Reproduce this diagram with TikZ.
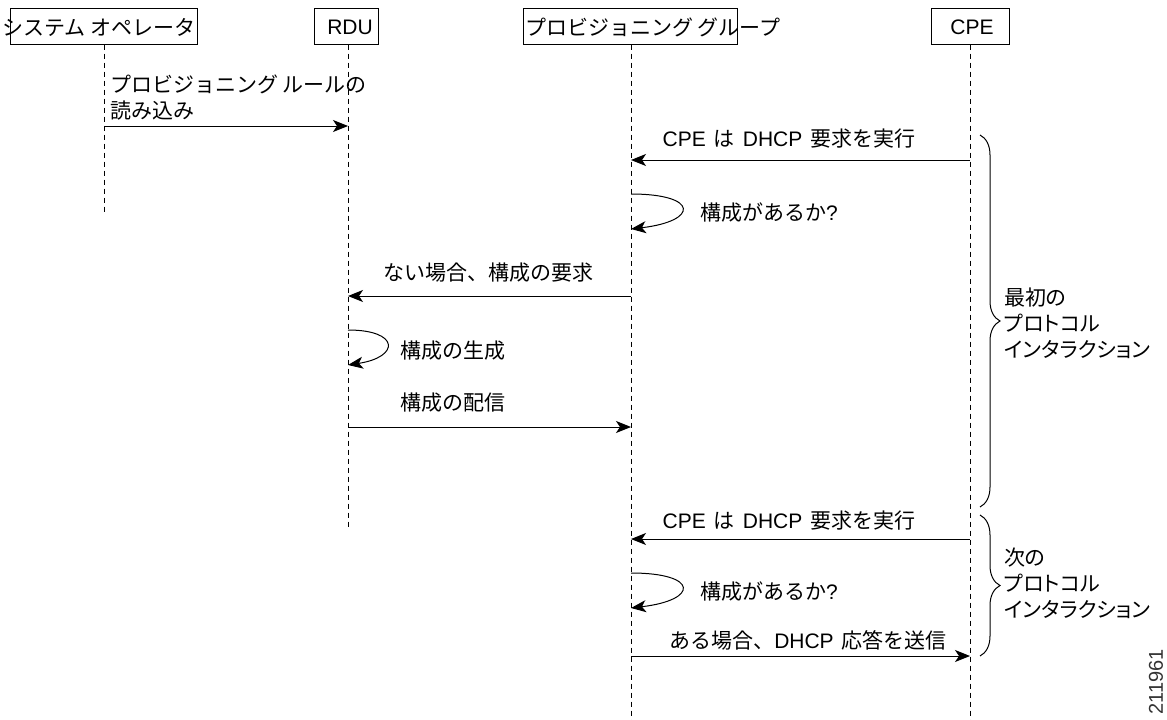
\documentclass[tikz,border=0pt]{standalone}
\usepackage{fontspec}
\setmainfont{Noto Sans CJK JP}
\newfontfamily\jpprop{Noto Sans CJK JP}[RawFeature=+palt]
\newfontfamily\latf{Liberation Sans}
\newcommand\La[1]{{\latf #1}}
\newcommand\gapL{\hspace{8pt}}
\usetikzlibrary{arrows.meta,decorations.pathreplacing}
\begin{document}
\begin{tikzpicture}[x=1pt,y=-1pt,
  lifeline/.style={line width=1pt, dash pattern=on 5pt off 4pt},
  msg/.style={line width=1pt, -{Stealth[length=15pt,width=12pt,inset=4pt]}},
  headbox/.style={draw, line width=1pt, inner sep=0pt},
  lbl/.style={font=\fontsize{21}{26}\selectfont, inner sep=0pt},
  grplbl/.style={font=\jpprop\fontsize{21}{26}\selectfont, inner sep=0pt, anchor=west, align=left},
  bracestyle/.style={line width=1pt, decorate, decoration={brace, amplitude=20pt}}
]
\useasboundingbox (0,0) rectangle (1167,720);

% header boxes
\node[headbox, minimum width=187pt, minimum height=36pt] (opBox) at (103.5,26) {};
\node[lbl, anchor=west] (opText) at (2,27) {システム オペレータ};
\node[headbox, minimum width=64pt, minimum height=36pt] (rduBox) at (346,26) {};
\node[lbl] (rduText) at (350,27) {\La{RDU}};
\node[headbox, minimum width=214pt, minimum height=36pt] (pgBox) at (630,26) {};
\node[lbl, anchor=west] (pgText) at (525,27) {プロビジョニング グループ};
\node[headbox, minimum width=78pt, minimum height=36pt] (cpeBox) at (970,26) {};
\node[lbl] (cpeText) at (972,27) {\La{CPE}};

% lifeline ends
\coordinate (opEnd) at (104,215);
\coordinate (rduEnd) at (348,528);
\coordinate (pgEnd) at (631,720);
\coordinate (cpeEnd) at (970,720);
\draw[lifeline] (opBox.south -| opEnd) -- (opEnd);
\draw[lifeline] (rduBox.south -| rduEnd) -- (rduEnd);
\draw[lifeline] (pgBox.south -| pgEnd) -- (pgEnd);
\draw[lifeline] (cpeBox.south -| cpeEnd) -- (cpeEnd);

% message points
\coordinate (op1) at (104,126);  \coordinate (rdu1) at (348,126);
\coordinate (cpe2) at (970,160); \coordinate (pg2) at (631,160);
\coordinate (pg3a) at (631,194); \coordinate (pg3b) at (631,229);
\coordinate (pg4) at (631,296);  \coordinate (rdu4) at (348,296);
\coordinate (rdu5a) at (348,330); \coordinate (rdu5b) at (348,365);
\coordinate (rdu6) at (348,427); \coordinate (pg6) at (631,427);
\coordinate (cpe7) at (970,539); \coordinate (pg7) at (631,539);
\coordinate (pg8a) at (631,573); \coordinate (pg8b) at (631,608);
\coordinate (pg9) at (631,656);  \coordinate (cpe9) at (970,656);

\draw[msg] (op1) -- (rdu1);
\node[lbl, anchor=west, align=left] (l1) at (110,98) {プロビジョニング ルールの\\読み込み};

\draw[msg] (cpe2) -- (pg2);
\node[lbl] (l2) at (789,139) {\La{CPE}\gapL は\gapL\La{DHCP}\gapL 要求を実行};

\draw[msg] (pg3a) .. controls +(68,0) and +(68,-8) .. (pg3b);
\node[lbl, anchor=west] (l3) at (700,213) {構成があるか\La{?}};

\draw[msg] (pg4) -- (rdu4);
\node[lbl] (l4) at (488,273) {ない場合、構成の要求};

\draw[msg] (rdu5a) .. controls +(52,0) and +(52,-8) .. (rdu5b);
\node[lbl, anchor=west] (l5) at (400,351) {構成の生成};

\draw[msg] (rdu6) -- (pg6);
\node[lbl, anchor=west] (l6) at (400,403) {構成の配信};

\draw[msg] (cpe7) -- (pg7);
\node[lbl] (l7) at (789,521) {\La{CPE}\gapL は\gapL\La{DHCP}\gapL 要求を実行};

\draw[msg] (pg8a) .. controls +(68,0) and +(68,-8) .. (pg8b);
\node[lbl, anchor=west] (l8) at (700,592) {構成があるか\La{?}};

\draw[msg] (pg9) -- (cpe9);
\node[lbl] (l9) at (808,640) {ある場合、\La{DHCP}\gapL 応答を送信};

% braces
\coordinate (b1t) at (980,135); \coordinate (b1b) at (980,507);
\coordinate (b2t) at (980,515); \coordinate (b2b) at (980,656);
\draw[bracestyle] (b1t) -- (b1b);
\draw[bracestyle] (b2t) -- (b2b);
\node[grplbl] (g1) at (1004,323) {最初の\\プロトコル\\インタラクション};
\node[grplbl] (g2) at (1004,583) {次の\\プロトコル\\インタラクション};

\node[font=\latf\fontsize{20}{22}\selectfont, text=black!80, rotate=90, inner sep=0pt] (fig) at (1156,682) {211961};
\end{tikzpicture}
\end{document}
